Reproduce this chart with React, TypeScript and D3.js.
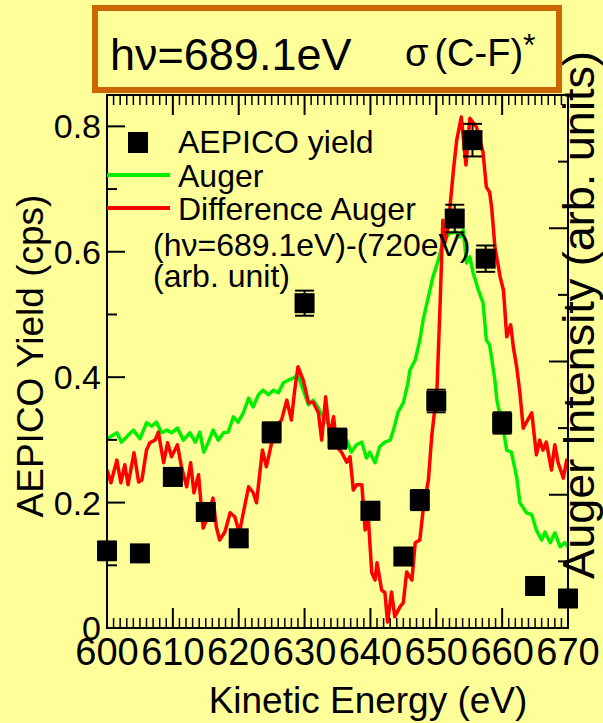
import React from "react";
import * as d3 from "d3";

// AEPICO yield (cps) vs kinetic energy (eV)
const pointE = [600, 605, 610, 615, 620, 625, 630, 635, 640, 645, 647.5, 650, 652.8, 655.5, 657.5, 660, 665, 670];
const pointY = [0.123, 0.119, 0.241, 0.185, 0.143, 0.312, 0.518, 0.302, 0.187, 0.114, 0.204, 0.362, 0.653, 0.778, 0.589, 0.327, 0.067, 0.047];
const pointErr = [0.015, 0.012, 0.014, 0.014, 0.012, 0.016, 0.02, 0.016, 0.014, 0.012, 0.016, 0.018, 0.022, 0.026, 0.021, 0.017, 0.01, 0.01];

// Auger spectrum (arb. units, right axis)
const augerE = [600.0, 601.5, 602.2, 603.0, 604.0, 605.0, 606.0, 606.8, 607.5, 608.3, 609.1, 609.8, 610.7, 611.6, 612.6, 613.4, 614.1, 614.7, 615.4, 616.1, 616.9, 617.7, 618.4, 619.2, 619.9, 620.7, 621.5, 622.2, 623.0, 623.7, 624.5, 625.3, 626.0, 626.8, 627.5, 628.3, 629.0, 629.8, 630.6, 631.3, 632.1, 632.8, 633.9, 634.9, 636.4, 637.1, 637.9, 638.7, 639.4, 639.9, 640.7, 641.4, 642.2, 643.0, 643.5, 644.2, 645.0, 645.7, 646.0, 646.8, 647.5, 648.0, 648.8, 649.5, 650.3, 651.1, 652.1, 653.1, 653.6, 654.1, 654.6, 655.1, 655.6, 656.4, 657.1, 657.6, 658.1, 658.9, 659.2, 660.2, 660.7, 661.4, 662.2, 662.7, 663.7, 664.5, 665.2, 666.0, 666.5, 667.3, 668.0, 668.8, 669.5, 670.0];
const augerV = [2.84, 2.93, 2.79, 2.87, 2.97, 2.84, 3.08, 3.03, 3.09, 2.93, 2.97, 2.93, 3.0, 2.82, 2.93, 2.79, 2.94, 2.64, 2.79, 2.97, 2.82, 2.93, 2.94, 3.17, 3.09, 3.23, 3.45, 3.32, 3.5, 3.57, 3.5, 3.57, 3.53, 3.68, 3.72, 3.75, 3.8, 3.57, 3.35, 3.42, 3.3, 3.17, 3.02, 2.87, 2.82, 2.64, 2.75, 2.79, 2.55, 2.64, 2.48, 2.72, 2.79, 2.82, 2.97, 3.24, 3.38, 3.68, 3.87, 4.02, 4.32, 4.62, 4.97, 5.27, 5.52, 5.82, 5.93, 5.94, 5.87, 5.97, 5.48, 5.57, 5.33, 5.07, 4.88, 4.32, 4.25, 3.72, 3.42, 2.97, 2.67, 2.64, 2.27, 1.88, 1.73, 1.7, 1.47, 1.32, 1.44, 1.28, 1.43, 1.22, 1.28, 1.22];

// Difference Auger (hν=689.1eV)-(720eV), arb. units, right axis
const diffE = [600.0, 600.6, 601.5, 602.1, 602.7, 603.2, 604.1, 604.8, 605.3, 606.0, 606.5, 607.3, 607.8, 608.6, 609.2, 609.8, 610.7, 611.3, 612.1, 612.7, 613.2, 613.9, 614.6, 615.4, 616.1, 616.6, 617.1, 617.9, 618.7, 619.4, 620.1, 620.7, 621.5, 622.2, 622.7, 623.6, 624.2, 625.0, 625.8, 626.5, 627.3, 628.0, 628.5, 629.0, 629.8, 630.6, 631.3, 632.1, 632.6, 633.2, 633.8, 634.4, 634.9, 635.6, 636.4, 636.9, 637.4, 637.9, 638.7, 639.2, 639.7, 640.2, 640.7, 641.0, 641.7, 642.2, 642.6, 643.2, 643.7, 644.5, 645.0, 645.5, 646.3, 646.8, 647.5, 648.0, 648.8, 649.3, 650.1, 650.6, 651.0, 651.3, 651.8, 652.6, 653.1, 653.8, 654.5, 655.1, 656.1, 657.1, 657.6, 658.1, 658.4, 658.9, 659.7, 660.2, 660.7, 661.3, 661.7, 662.2, 662.7, 663.2, 663.7, 664.5, 665.2, 665.7, 666.2, 666.7, 667.5, 668.0, 668.5, 669.3, 669.8, 670.0];
const diffV = [2.37, 2.18, 2.52, 2.18, 2.45, 2.15, 2.63, 2.19, 2.22, 2.67, 2.78, 2.82, 2.94, 2.48, 2.78, 2.57, 2.75, 2.42, 2.12, 2.48, 2.03, 2.3, 1.5, 1.7, 1.95, 1.52, 1.32, 1.44, 1.73, 1.67, 1.43, 1.73, 2.12, 2.03, 1.88, 2.67, 2.42, 2.78, 3.05, 3.12, 3.42, 3.12, 3.57, 3.92, 3.72, 3.38, 3.39, 3.23, 2.82, 3.47, 2.87, 3.17, 2.72, 2.64, 2.49, 2.57, 2.07, 2.15, 2.15, 1.47, 1.62, 0.83, 0.72, 0.98, 0.57, 0.53, 0.09, 0.54, 0.17, 0.32, 0.38, 0.84, 0.72, 1.28, 1.32, 1.77, 2.22, 2.87, 3.57, 4.92, 6.12, 5.78, 6.02, 6.87, 7.32, 7.67, 6.95, 7.65, 7.52, 7.14, 6.62, 6.54, 6.32, 5.72, 5.27, 5.07, 4.37, 4.55, 4.22, 3.92, 3.53, 3.0, 3.09, 3.23, 2.6, 2.82, 2.67, 2.79, 2.37, 2.75, 2.48, 2.25, 2.52, 2.49];

const xTicks = [600, 610, 620, 630, 640, 650, 660, 670];
const yTicks = [0, 0.2, 0.4, 0.6, 0.8];
const yTickLabels = ["0", "0.2", "0.4", "0.6", "0.8"];

const W = 603;
const H = 723;
const left = 107;
const right = 568;
const top = 95;
const bottom = 628;

const FONT = "'Liberation Sans', Arial, Helvetica, sans-serif";
const BG = "#ffff99";
const GREEN = "#00ee00";
const RED = "#ff0000";
const FRAME = "#cc6600";

export default function App() {
  const x = d3.scaleLinear().domain([600, 670]).range([left, right]);
  const yL = d3.scaleLinear().domain([0, 0.85]).range([bottom, top]);
  const yR = d3.scaleLinear().domain([0, 8]).range([bottom, top]);

  const augerLine = d3
    .line<number>()
    .x((_, i) => x(augerE[i]))
    .y((d) => yR(d));
  const diffLine = d3
    .line<number>()
    .x((_, i) => x(diffE[i]))
    .y((d) => yR(d));

  const minorX = d3.range(600, 671, 1).filter((v) => v % 10 !== 0);
  const minorYL = [0.1, 0.3, 0.5, 0.7];
  const majorYR = [0, 2, 4, 6, 8];
  const minorYR = [1, 3, 5, 7];

  const sq = 20;
  const capW = 19;

  return (
    <svg
      width={W}
      height={H}
      style={{ position: "absolute", left: 0, top: 0, display: "block" }}
      fontFamily={FONT}
    >
      <rect x={0} y={0} width={W} height={H} fill={BG} />
      <defs>
        <clipPath id="plotClip">
          <rect x={left} y={top} width={right - left} height={bottom - top} />
        </clipPath>
      </defs>

      {/* title box */}
      <rect x={95} y={8} width={464} height={82} fill="none" stroke={FRAME} strokeWidth={6} />
      <text x={110} y={70} fontSize={45} fill="#000">hν=689.1eV</text>
      <text x={405} y={66} fontSize={38} fill="#000">
        σ<tspan dx={6}>(C-F)</tspan><tspan dy={-10} fontSize={32}>*</tspan>
      </text>

      {/* curves */}
      <g clipPath="url(#plotClip)">
        <path d={augerLine(augerV) || ""} fill="none" stroke={GREEN} strokeWidth={3.5} strokeLinejoin="round" />
        <path d={diffLine(diffV) || ""} fill="none" stroke={RED} strokeWidth={3.5} strokeLinejoin="round" />
      </g>

      {/* AEPICO yield points with error bars */}
      <g>
        {pointE.map((e, i) => {
          const cx = x(e);
          const y0 = yL(pointY[i] - pointErr[i]);
          const y1 = yL(pointY[i] + pointErr[i]);
          return (
            <g key={i}>
              <line x1={cx} x2={cx} y1={y0} y2={y1} stroke="#000" strokeWidth={2} />
              <line x1={cx - capW / 2} x2={cx + capW / 2} y1={y0} y2={y0} stroke="#000" strokeWidth={2} />
              <line x1={cx - capW / 2} x2={cx + capW / 2} y1={y1} y2={y1} stroke="#000" strokeWidth={2} />
              <rect x={cx - sq / 2} y={yL(pointY[i]) - sq / 2} width={sq} height={sq} fill="#000" />
            </g>
          );
        })}
      </g>

      {/* frame */}
      <rect x={left} y={top} width={right - left} height={bottom - top} fill="none" stroke="#000" strokeWidth={2} />

      {/* bottom and top ticks */}
      {xTicks.map((t) => (
        <g key={"xt" + t}>
          <line x1={x(t)} x2={x(t)} y1={bottom} y2={bottom - 20} stroke="#000" strokeWidth={2} />
          <line x1={x(t)} x2={x(t)} y1={top} y2={top + 20} stroke="#000" strokeWidth={2} />
          <text x={x(t)} y={665} fontSize={38} textAnchor="middle" fill="#000">{t}</text>
        </g>
      ))}
      {minorX.map((t) => (
        <g key={"xm" + t}>
          <line x1={x(t)} x2={x(t)} y1={bottom} y2={bottom - 10} stroke="#000" strokeWidth={1.5} />
          <line x1={x(t)} x2={x(t)} y1={top} y2={top + 10} stroke="#000" strokeWidth={1.5} />
        </g>
      ))}

      {/* left axis */}
      {yTicks.map((t, i) => (
        <g key={"yl" + t}>
          <line x1={left} x2={left + 18} y1={yL(t)} y2={yL(t)} stroke="#000" strokeWidth={2} />
          <text x={101} y={yL(t) + 12} fontSize={34} textAnchor="end" fill="#000">{yTickLabels[i]}</text>
        </g>
      ))}
      {minorYL.map((t) => (
        <line key={"ylm" + t} x1={left} x2={left + 10} y1={yL(t)} y2={yL(t)} stroke="#000" strokeWidth={2} />
      ))}

      {/* right axis */}
      {majorYR.map((t) => (
        <line key={"yr" + t} x1={right} x2={right - 19} y1={yR(t)} y2={yR(t)} stroke="#000" strokeWidth={2} />
      ))}
      {minorYR.map((t) => (
        <line key={"yrm" + t} x1={right} x2={right - 10} y1={yR(t)} y2={yR(t)} stroke="#000" strokeWidth={2} />
      ))}

      {/* axis titles */}
      <text x={368} y={713} fontSize={37} textAnchor="middle" fill="#000">Kinetic Energy (eV)</text>
      <text transform={`translate(43,356) rotate(-90)`} fontSize={37} textAnchor="middle" fill="#000">AEPICO Yield (cps)</text>
      <text transform={`translate(594,315) rotate(-90)`} fontSize={45} textAnchor="middle" fill="#000">Auger Intensity (arb. units)</text>

      {/* legend */}
      <rect x={128} y={132} width={20} height={21} fill="#000" />
      <text x={178} y={153} fontSize={32} fill="#000">AEPICO yield</text>
      <line x1={107} x2={170} y1={175} y2={175} stroke={GREEN} strokeWidth={4} />
      <text x={178} y={187} fontSize={32} fill="#000">Auger</text>
      <line x1={107} x2={170} y1={208} y2={208} stroke={RED} strokeWidth={4} />
      <text x={178} y={220} fontSize={32} fill="#000">Difference Auger</text>
      <text x={153} y={256} fontSize={32} fill="#000">(hν=689.1eV)-(720eV)</text>
      <text x={153} y={287} fontSize={32} fill="#000">(arb. unit)</text>
    </svg>
  );
}
